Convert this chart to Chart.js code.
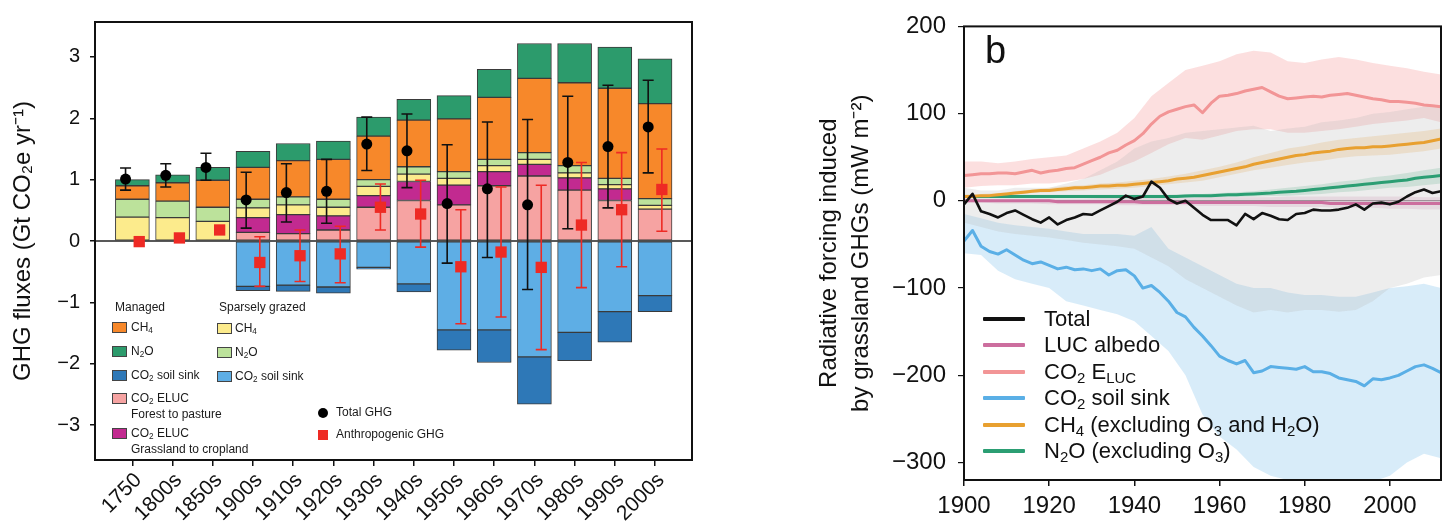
<!DOCTYPE html>
<html><head><meta charset="utf-8">
<script src="https://cdn.jsdelivr.net/npm/chart.js@4.4.1/dist/chart.umd.min.js"></script>
<style>
html,body{margin:0;padding:0;background:#fff;width:1453px;height:521px;overflow:hidden;font-family:"Liberation Sans",Arial,Helvetica,sans-serif;color:#111;}
#wrap{position:relative;width:1453px;height:521px;}
canvas{position:absolute;top:0;}
#cA{left:0;} #cB{left:780px;}
.t{position:absolute;white-space:nowrap;font-size:12px;line-height:15.5px;color:#1a1a1a;}
.sw{position:absolute;width:15px;height:11px;box-sizing:border-box;border:1px solid #444;}
sub{font-size:0.68em;vertical-align:-0.28em;line-height:0;}
.rl{position:absolute;white-space:nowrap;font-size:22px;line-height:26px;color:#111;}
.ln{position:absolute;width:42px;height:3.5px;border-radius:1px;}
</style></head>
<body><div id="wrap">
<canvas id="cA" width="700" height="521"></canvas>
<canvas id="cB" width="673" height="521"></canvas>

<div class="t" style="left:115px;top:300px;">Managed</div>
<div class="t" style="left:219px;top:300px;">Sparsely grazed</div>
<div class="sw" style="left:112px;top:322px;background:#F7882A"></div><div class="t" style="left:131px;top:320px;">CH<sub>4</sub></div>
<div class="sw" style="left:112px;top:346px;background:#2C9B6C"></div><div class="t" style="left:131px;top:344px;">N<sub>2</sub>O</div>
<div class="sw" style="left:112px;top:370px;background:#2E78B7"></div><div class="t" style="left:131px;top:368px;">CO<sub>2</sub> soil sink</div>
<div class="sw" style="left:112px;top:393px;background:#F6A3A2"></div><div class="t" style="left:131px;top:391px;">CO<sub>2</sub> ELUC<br>Forest to pasture</div>
<div class="sw" style="left:112px;top:428px;background:#C22A90"></div><div class="t" style="left:131px;top:426px;">CO<sub>2</sub> ELUC<br>Grassland to cropland</div>
<div class="sw" style="left:217px;top:323px;background:#FCEB8C"></div><div class="t" style="left:235px;top:321px;">CH<sub>4</sub></div>
<div class="sw" style="left:217px;top:347px;background:#BCE29B"></div><div class="t" style="left:235px;top:345px;">N<sub>2</sub>O</div>
<div class="sw" style="left:217px;top:371px;background:#5EAEE5"></div><div class="t" style="left:235px;top:369px;">CO<sub>2</sub> soil sink</div>
<div style="position:absolute;left:318px;top:408px;width:10px;height:10px;border-radius:50%;background:#000"></div><div class="t" style="left:336px;top:405px;">Total GHG</div>
<div style="position:absolute;left:318px;top:430px;width:10px;height:10px;background:#EE2A24"></div><div class="t" style="left:336px;top:427px;">Anthropogenic GHG</div>

<div style="position:absolute;left:985px;top:31px;font-size:38px;line-height:38px;color:#111;">b</div>
<div class="ln" style="left:983px;top:317px;background:#111"></div><div class="rl" style="left:1044px;top:306px;">Total</div>
<div class="ln" style="left:983px;top:343px;background:#CC6E9E"></div><div class="rl" style="left:1044px;top:332px;">LUC albedo</div>
<div class="ln" style="left:983px;top:370px;background:#F29596"></div><div class="rl" style="left:1044px;top:359px;">CO<sub>2</sub> E<sub>LUC</sub></div>
<div class="ln" style="left:983px;top:396px;background:#5AAFE6"></div><div class="rl" style="left:1044px;top:385px;">CO<sub>2</sub> soil sink</div>
<div class="ln" style="left:983px;top:423px;background:#E8A030"></div><div class="rl" style="left:1044px;top:412px;">CH<sub>4</sub> (excluding O<sub>3</sub> and H<sub>2</sub>O)</div>
<div class="ln" style="left:983px;top:449px;background:#2B9E73"></div><div class="rl" style="left:1044px;top:438px;">N<sub>2</sub>O (excluding O<sub>3</sub>)</div>
</div>
<script>
// ---------- Panel a data ----------
const CATEGORIES = ['1750','1800s','1850s','1900s','1910s','1920s','1930s','1940s','1950s','1960s','1970s','1980s','1990s','2000s'];
const ELUC_PASTURE  = [null,null,null,0.14,0.12,0.18,0.55,0.66,0.59,0.90,1.06,0.83,0.66,0.52];
const ELUC_CROPLAND = [null,null,null,0.24,0.31,0.23,0.19,0.31,0.32,0.23,0.19,0.20,0.19,null];
const SPARSE_CH4    = [0.39,0.38,0.32,0.16,0.16,0.14,0.15,0.12,0.11,0.10,0.08,0.08,0.07,0.06];
const SPARSE_N2O    = [0.29,0.27,0.23,0.14,0.13,0.13,0.11,0.12,0.11,0.10,0.11,0.12,0.10,0.11];
const MANAGED_CH4   = [0.22,0.30,0.44,0.52,0.59,0.65,0.71,0.76,0.86,1.01,1.21,1.35,1.47,1.55];
const MANAGED_N2O   = [0.10,0.13,0.21,0.26,0.28,0.30,0.31,0.34,0.38,0.46,0.57,0.64,0.67,0.73];
const SPARSE_SOIL   = [null,null,null,-0.74,-0.72,-0.75,-0.43,-0.70,-1.45,-1.45,-1.89,-1.49,-1.15,-0.89];
const MANAGED_SOIL  = [null,null,null,-0.07,-0.10,-0.10,-0.03,-0.13,-0.33,-0.53,-0.77,-0.46,-0.50,-0.26];
const TOTAL_GHG     = [1.01,1.07,1.20,0.67,0.79,0.81,1.58,1.47,0.61,0.85,0.59,1.28,1.54,1.86];
const TOTAL_HI      = [1.19,1.26,1.43,1.12,1.26,1.33,2.02,2.07,1.57,1.94,1.98,2.36,2.54,2.62];
const TOTAL_LO      = [0.83,0.88,0.99,0.21,0.31,0.29,1.15,0.87,-0.36,-0.27,-0.79,0.20,0.54,1.11];
const ANTHRO_GHG    = [-0.01,0.05,0.18,-0.35,-0.24,-0.21,0.55,0.44,-0.42,-0.18,-0.43,0.26,0.51,0.84];
const ANTHRO_HI     = [null,null,null,0.07,0.18,0.24,0.93,0.99,0.51,0.88,0.91,1.28,1.44,1.50];
const ANTHRO_LO     = [null,null,null,-0.74,-0.66,-0.68,0.18,-0.10,-1.35,-1.24,-1.77,-0.76,-0.42,0.16];
const Y_TICKS_A     = [-3,-2,-1,0,1,2,3];

// ---------- Panel b data ----------
const LINE_YEARS = [1900,1902,1904,1906,1908,1910,1912,1914,1916,1918,1920,1922,1924,1926,1928,1930,1932,1934,1936,1938,1940,1942,1944,1946,1948,1950,1952,1954,1956,1958,1960,1962,1964,1966,1968,1970,1972,1974,1976,1978,1980,1982,1984,1986,1988,1990,1992,1994,1996,1998,2000,2002,2004,2006,2008,2010,2012];
const RF_TOTAL  = [-4,8,-12,-15,-19,-14,-11,-16,-21,-25,-19,-27,-22,-19,-15,-16,-11,-6,-1,6,2,5,22,15,2,-3,0,-8,-16,-22,-22,-22,-28,-15,-21,-14,-17,-21,-22,-15,-14,-10,-11,-11,-10,-8,-4,-10,-3,-2,-4,-1,5,10,13,9,11];
const RF_ALBEDO = [0,0,0,0,0,0,0,0,0,0,0,-1,-1,-1,-1,-1,-1,-1,-1,-1,-1,-2,-2,-2,-2,-2,-2,-2,-2,-2,-2,-2,-2,-2,-2,-2,-2,-2,-2,-2,-2,-2,-2,-3,-3,-3,-3,-3,-3,-3,-3,-3,-3,-3,-3,-3,-3];
const RF_ELUC   = [29,30,31,31,32,32,31,33,35,32,34,35,37,38,42,46,50,55,58,64,69,77,88,97,102,105,108,110,101,112,120,121,123,126,128,130,125,120,117,118,119,120,119,121,122,123,121,119,117,116,114,114,113,112,110,109,108];
const RF_SOIL   = [-46,-34,-52,-58,-61,-56,-62,-68,-72,-70,-74,-78,-76,-79,-78,-80,-78,-85,-80,-79,-86,-100,-97,-105,-115,-128,-133,-145,-155,-166,-178,-183,-187,-183,-197,-195,-190,-191,-192,-193,-190,-196,-196,-198,-203,-205,-207,-212,-204,-205,-203,-200,-195,-190,-188,-192,-197];
const RF_CH4    = [5,5,6,6,7,8,9,10,11,12,12,13,14,15,15,16,17,17,18,18,19,20,21,22,23,25,26,27,29,31,33,35,37,39,42,44,46,48,50,52,53,55,56,57,59,60,61,61,62,62,63,64,65,66,67,69,71];
const RF_N2O    = [5,5,5,5,5,5,5,5,5,5,5,5,5,5,5,5,5,5,5,5,5,5,5,5,5,5,5.5,6,6,6,6.5,7,7,7.5,8,8.5,9,10,10.5,11,12,13,14,15,16,17,18,19,20,21,22,23,24,26,27,28,29];

const BAND_YEARS = [1900,1904,1908,1912,1916,1920,1924,1928,1932,1936,1940,1944,1948,1952,1956,1960,1964,1968,1972,1976,1980,1984,1988,1992,1996,2000,2004,2008,2012];
const TOTAL_BAND_LO  = [-25,-30,-35,-38,-40,-42,-45,-48,-50,-52,-55,-65,-75,-90,-100,-110,-120,-128,-125,-128,-125,-125,-127,-125,-115,-100,-95,-88,-85];
const TOTAL_BAND_HI  = [15,12,12,15,15,15,20,25,35,45,60,68,72,78,80,82,84,86,80,83,85,90,92,95,100,102,105,108,110];
const SOIL_BAND_HI   = [-15,-20,-25,-28,-30,-32,-35,-38,-38,-38,-40,-30,-55,-65,-75,-85,-95,-100,-100,-105,-108,-108,-110,-110,-105,-100,-98,-95,-100];
const SOIL_BAND_LO   = [-60,-62,-80,-90,-95,-100,-115,-120,-125,-130,-138,-155,-172,-200,-245,-270,-285,-305,-315,-320,-322,-322,-322,-325,-322,-315,-300,-290,-295];
const ELUC_BAND_HI   = [45,45,43,45,48,50,52,60,68,78,95,120,135,150,155,160,168,172,170,160,158,162,165,162,158,155,152,148,145];
const ELUC_BAND_LO   = [15,17,18,18,20,20,22,25,30,38,45,55,65,72,70,75,80,82,82,78,78,80,82,85,88,90,92,95,90];
const CH4_BAND_HI    = [7,8,9,11,13,15,17,18,20,21,23,25,28,31,35,39,44,50,55,60,63,67,70,72,74,76,78,80,83];
const CH4_BAND_LO    = [3,4,5,7,9,10,11,12,13,14,15,17,19,21,23,27,31,35,38,41,44,46,49,51,52,53,55,57,60];
const N2O_BAND_HI    = [7,7,7,7,7,7,7,7,7,7,7,7,7,8,8,9,10,11,13,15,17,19,22,24,27,29,32,35,38];
const N2O_BAND_LO    = [3,3,3,3,3,3,3,3,3,3,3,3,3,3.5,4,4,4.5,5,5.5,6,7,8,10,11,13,15,16,18,20];
const ALB_BAND_HI    = [2,2,2,2,2,2,2,2,3,3,3,3,3,3,4,4,4,4,4,5,5,5,5,5,5,5,5,4,4];
const ALB_BAND_LO    = [-2,-2,-3,-3,-3,-4,-4,-4,-4,-5,-5,-5,-5,-5,-6,-6,-6,-6,-7,-7,-7,-7,-8,-8,-8,-9,-9,-10,-10];

// ---------- styles ----------
const FONT = '"Liberation Sans", Arial, Helvetica, sans-serif';
Chart.defaults.font.family = FONT;
Chart.defaults.color = '#111';
const DOT_SHIFT = 0.17;
const CAP = 5.5;
const fmtMinus = v => String(v).replace('-', '\u2212');

function barDs(label, values, color) {
  return { type: 'bar', label, data: values.map((v, i) => ({ x: i, y: v })),
    backgroundColor: color, borderColor: '#3a3a3a', borderWidth: 1, borderSkipped: false,
    barThickness: 34, order: 0 };
}
const dsA = [
  barDs('CO2 ELUC Forest to pasture', ELUC_PASTURE, '#F6A3A2'),
  barDs('CO2 ELUC Grassland to cropland', ELUC_CROPLAND, '#C22A90'),
  barDs('Sparsely grazed CH4', SPARSE_CH4, '#FCEB8C'),
  barDs('Sparsely grazed N2O', SPARSE_N2O, '#BCE29B'),
  barDs('Managed CH4', MANAGED_CH4, '#F7882A'),
  barDs('Managed N2O', MANAGED_N2O, '#2C9B6C'),
  barDs('Sparsely grazed CO2 soil sink', SPARSE_SOIL, '#5EAEE5'),
  barDs('Managed CO2 soil sink', MANAGED_SOIL, '#2E78B7'),
  { type: 'scatter', label: 'Total GHG', stack: 'tot', order: -2,
    data: TOTAL_GHG.map((v, i) => ({ x: i - DOT_SHIFT, y: v })),
    pointStyle: 'circle', pointRadius: 5.5, pointHoverRadius: 5.5, backgroundColor: '#000', borderColor: '#000', borderWidth: 0 },
  { type: 'scatter', label: 'Anthropogenic GHG', stack: 'anth', order: -1,
    data: ANTHRO_GHG.map((v, i) => ({ x: i + DOT_SHIFT, y: v })),
    pointStyle: 'rect', pointRadius: 8, pointHoverRadius: 8, backgroundColor: '#EE2A24', borderColor: '#EE2A24', borderWidth: 0 }
];
const RED_IDX = dsA.length - 1;

function drawErr(ctx, xs, ys, lows, highs, shift, color) {
  ctx.strokeStyle = color; ctx.lineWidth = 1.6;
  lows.forEach((lo, i) => {
    const hi = highs[i];
    if (lo == null || hi == null) return;
    const px = xs.getPixelForValue(i + shift);
    const pl = ys.getPixelForValue(lo), ph = ys.getPixelForValue(hi);
    ctx.beginPath();
    ctx.moveTo(px, pl); ctx.lineTo(px, ph);
    ctx.moveTo(px - CAP, pl); ctx.lineTo(px + CAP, pl);
    ctx.moveTo(px - CAP, ph); ctx.lineTo(px + CAP, ph);
    ctx.stroke();
  });
}
const pluginA = {
  id: 'panelA',
  beforeDatasetDraw(chart, args) {
    if (args.index !== RED_IDX) return;
    const { ctx, chartArea, scales: { x, y } } = chart;
    ctx.save();
    const y0 = y.getPixelForValue(0);
    ctx.strokeStyle = '#222'; ctx.lineWidth = 1.3;
    ctx.beginPath(); ctx.moveTo(chartArea.left, y0); ctx.lineTo(chartArea.right, y0); ctx.stroke();
    drawErr(ctx, x, y, TOTAL_LO, TOTAL_HI, -DOT_SHIFT, '#111');
    drawErr(ctx, x, y, ANTHRO_LO, ANTHRO_HI, DOT_SHIFT, '#EE2A24');
    ctx.restore();
  },
  afterDraw(chart) {
    const { ctx, chartArea: a } = chart;
    ctx.save(); ctx.strokeStyle = '#111'; ctx.lineWidth = 2;
    ctx.strokeRect(a.left, a.top, a.right - a.left, a.bottom - a.top);
    ctx.restore();
  }
};

new Chart(document.getElementById('cA'), {
  type: 'bar',
  data: { datasets: dsA },
  options: {
    responsive: false, animation: false, events: [],
    layout: { padding: { left: 0, right: 7, top: 14, bottom: 0 } },
    plugins: { legend: { display: false }, tooltip: { enabled: false } },
    scales: {
      x: { type: 'linear', stacked: true, offset: false, min: -0.93, max: 13.92,
        afterBuildTicks: s => { s.ticks = CATEGORIES.map((c, i) => ({ value: i })); },
        afterFit: s => { s.height = 61; },
        border: { display: false },
        grid: { offset: false, drawOnChartArea: false, drawTicks: true, tickLength: 6, color: '#111', lineWidth: 1.5 },
        ticks: { autoSkip: false, minRotation: 45, maxRotation: 45, labelOffset: 6, padding: 2,
          font: { size: 21 }, color: '#111', callback: v => CATEGORIES[v] } },
      y: { type: 'linear', stacked: true, min: -3.57, max: 3.57,
        afterBuildTicks: s => { s.ticks = Y_TICKS_A.map(v => ({ value: v })); },
        afterFit: s => { s.width = 95; },
        border: { display: false },
        grid: { drawOnChartArea: false, drawTicks: true, tickLength: 5, color: '#111', lineWidth: 1.5 },
        ticks: { padding: 10, font: { size: 20 }, color: '#111', callback: v => fmtMinus(v) },
        title: { display: true, text: 'GHG fluxes (Gt CO\u2082e yr\u207B\u00B9)', font: { size: 24 }, color: '#111', padding: { top: 9, bottom: 0 } } }
    }
  },
  plugins: [pluginA]
});

// ---------- Panel b ----------
function band(lo, hi, color) {
  return [
    { data: BAND_YEARS.map((yr, i) => ({ x: yr, y: lo[i] })), borderWidth: 0, pointRadius: 0, fill: false, order: 10 },
    { data: BAND_YEARS.map((yr, i) => ({ x: yr, y: hi[i] })), borderWidth: 0, pointRadius: 0, fill: '-1', backgroundColor: color, order: 10 }
  ];
}
function line(label, vals, color, w, ord) {
  return { label, data: LINE_YEARS.map((yr, i) => ({ x: yr, y: vals[i] })), borderColor: color, borderWidth: w,
    pointRadius: 0, fill: false, tension: 0, order: ord, borderJoinStyle: 'round' };
}
const dsB = [
  ...band(TOTAL_BAND_LO, TOTAL_BAND_HI, 'rgba(185,185,185,0.26)'),
  ...band(SOIL_BAND_LO, SOIL_BAND_HI, 'rgba(110,185,232,0.27)'),
  ...band(ELUC_BAND_LO, ELUC_BAND_HI, 'rgba(246,140,140,0.28)'),
  ...band(CH4_BAND_LO, CH4_BAND_HI, 'rgba(238,170,70,0.25)'),
  ...band(N2O_BAND_LO, N2O_BAND_HI, 'rgba(60,170,120,0.22)'),
  ...band(ALB_BAND_LO, ALB_BAND_HI, 'rgba(200,110,160,0.2)'),
  line('N2O (excluding O3)', RF_N2O, '#2B9E73', 3, 5),
  line('CH4 (excluding O3 and H2O)', RF_CH4, '#E8A030', 3, 4),
  line('LUC albedo', RF_ALBEDO, '#CC6E9E', 3, 3),
  line('CO2 soil sink', RF_SOIL, '#5AAFE6', 3, 2),
  line('CO2 ELUC', RF_ELUC, '#F29596', 3, 1),
  line('Total', RF_TOTAL, '#111', 2.6, 0)
];
const frameB = {
  id: 'frameB',
  afterDraw(chart) {
    const { ctx, chartArea: a } = chart;
    ctx.save(); ctx.strokeStyle = '#111'; ctx.lineWidth = 2;
    ctx.strokeRect(a.left, a.top, a.right - a.left, a.bottom - a.top);
    ctx.restore();
  }
};
new Chart(document.getElementById('cB'), {
  type: 'line',
  data: { datasets: dsB },
  options: {
    responsive: false, animation: false, events: [],
    layout: { padding: { left: 0, right: 12, top: 21, bottom: 0 } },
    plugins: { legend: { display: false }, tooltip: { enabled: false }, filler: { propagate: false } },
    scales: {
      x: { type: 'linear', min: 1900, max: 2012,
        ticks: { stepSize: 20, includeBounds: false, padding: 6, font: { size: 24 }, color: '#111', callback: v => String(v) },
        afterFit: s => { s.height = 41; },
        border: { display: false },
        grid: { drawOnChartArea: false, drawTicks: true, tickLength: 6, color: '#111', lineWidth: 1.5 } },
      y: { type: 'linear', min: -320, max: 200,
        ticks: { stepSize: 100, includeBounds: false, padding: 12, font: { size: 24 }, color: '#111', callback: v => fmtMinus(v) },
        afterFit: s => { s.width = 184; },
        border: { display: false },
        grid: { drawOnChartArea: true, drawTicks: true, tickLength: 6, tickColor: '#111',
          color: c => (c.tick && c.tick.value === 0) ? '#8a8a8a' : 'rgba(0,0,0,0)', lineWidth: 1.2 },
        title: { display: true, text: ['Radiative forcing induced', 'by grassland GHGs (mW m\u207B\u00B2)'],
          font: { size: 24, lineHeight: 1.35 }, color: '#111', padding: { top: 33, bottom: 0 } } }
    }
  },
  plugins: [frameB]
});
</script>
</body></html>
